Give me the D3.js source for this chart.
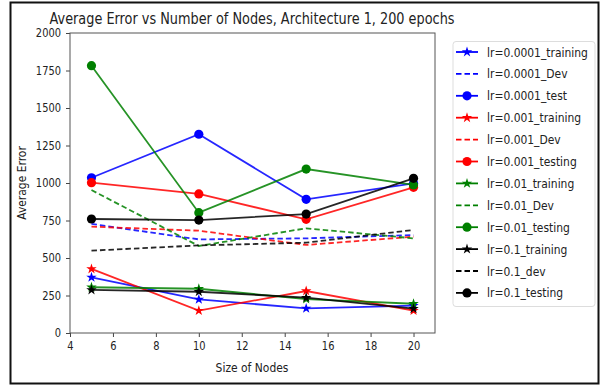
<!DOCTYPE html>
<html>
<head>
<meta charset="utf-8">
<script src="https://cdn.jsdelivr.net/npm/d3@7"></script>
<style>
  html, body { margin: 0; padding: 0; background: #fff; }
  svg { display: block; }
  text { font-family: "DejaVu Sans", sans-serif; fill: #222; }
</style>
</head>
<body>
<svg id="chart" width="603" height="386"></svg>
<script>
// Hidden-layer sizes tested
const nodes = [5, 10, 15, 20];

// Average error per learning rate
const lr0001_training = [371, 224, 164, 182];
const lr0001_dev      = [727, 624, 631, 653];
const lr0001_test     = [1035, 1325, 891, 998];
const lr001_training  = [427, 149, 280, 149];
const lr001_dev       = [709, 682, 587, 642];
const lr001_testing   = [1002, 927, 758, 971];
const lr01_training   = [305, 295, 226, 195];
const lr01_dev        = [953, 580, 698, 631];
const lr01_testing    = [1782, 802, 1093, 987];
const lr1_training    = [287, 275, 236, 162];
const lr1_dev         = [549, 584, 602, 687];
const lr1_testing     = [760, 753, 793, 1031];

const xTicks = [4, 6, 8, 10, 12, 14, 16, 18, 20];
const yTicks = [0, 250, 500, 750, 1000, 1250, 1500, 1750, 2000];

const series = [
  { name: "lr=0.0001_training", values: lr0001_training, color: "#0000ff", kind: "train" },
  { name: "lr=0.0001_Dev",      values: lr0001_dev,      color: "#0000ff", kind: "dev" },
  { name: "lr=0.0001_test",     values: lr0001_test,     color: "#0000ff", kind: "test" },
  { name: "lr=0.001_training",  values: lr001_training,  color: "#ff0000", kind: "train" },
  { name: "lr=0.001_Dev",       values: lr001_dev,       color: "#ff0000", kind: "dev" },
  { name: "lr=0.001_testing",   values: lr001_testing,   color: "#ff0000", kind: "test" },
  { name: "lr=0.01_training",   values: lr01_training,   color: "#008000", kind: "train" },
  { name: "lr=0.01_Dev",        values: lr01_dev,        color: "#008000", kind: "dev" },
  { name: "lr=0.01_testing",    values: lr01_testing,    color: "#008000", kind: "test" },
  { name: "lr=0.1_training",    values: lr1_training,    color: "#000000", kind: "train" },
  { name: "lr=0.1_dev",         values: lr1_dev,         color: "#000000", kind: "dev" },
  { name: "lr=0.1_testing",     values: lr1_testing,     color: "#000000", kind: "test" }
];

const svg = d3.select("#chart");
const plot = { left: 70, right: 435, top: 33, bottom: 333 };
const squeeze = 0.86; // horizontal text compression

const x = d3.scaleLinear().domain([4, 21]).range([plot.left, plot.right]);
const y = d3.scaleLinear().domain([0, 2000]).range([plot.bottom, plot.top]);

function label(g, txt, px, py, opts = {}) {
  const t = g.append("text")
    .attr("transform", `translate(${px},${py}) rotate(${opts.rotate || 0}) scale(${opts.sx || squeeze},1)`)
    .attr("text-anchor", opts.anchor || "start")
    .attr("font-size", opts.size || 12)
    .text(txt);
  return t;
}

// outer frame
svg.append("rect").attr("x", 10.5).attr("y", 2.5).attr("width", 588).attr("height", 381)
  .attr("fill", "none").attr("stroke", "#111").attr("stroke-width", 2);

// title
label(svg, "Average Error vs Number of Nodes, Architecture 1, 200 epochs", 252, 24,
  { anchor: "middle", size: 15.5, sx: 0.83 });

// axes
const xAxis = svg.append("g").attr("transform", `translate(0,${plot.bottom})`)
  .call(d3.axisBottom(x).tickValues(xTicks).tickSize(4).tickFormat(d3.format("d")));
const yAxis = svg.append("g").attr("transform", `translate(${plot.left},0)`)
  .call(d3.axisLeft(y).tickValues(yTicks).tickSize(4).tickFormat(d3.format("d")));
[xAxis, yAxis].forEach(a => {
  a.select(".domain").remove();
  a.selectAll(".tick line").attr("stroke", "#444");
  a.selectAll(".tick text").attr("font-size", 11.5).attr("fill", "#222")
    .attr("font-family", "DejaVu Sans, sans-serif");
});
xAxis.selectAll(".tick text").attr("dy", "0.9em").attr("transform", `scale(${squeeze},1)`);
yAxis.selectAll(".tick text").each(function () {
  const t = d3.select(this);
  const xx = +t.attr("x");
  t.attr("x", null).attr("transform", `translate(${xx - 2},0) scale(${squeeze},1)`);
});

// spines
svg.append("rect").attr("x", plot.left).attr("y", plot.top)
  .attr("width", plot.right - plot.left).attr("height", plot.bottom - plot.top)
  .attr("fill", "none").attr("stroke", "#555").attr("stroke-width", 1);

label(svg, "Size of Nodes", 252, 372, { anchor: "middle", size: 12.5 });
label(svg, "Average Error", 26, 183, { anchor: "middle", size: 12.5, rotate: -90 });

// lines and markers
const line = d3.line().x((d, i) => x(nodes[i])).y(d => y(d));
const star = d3.symbol().type(d3.symbolStar).size(34);

const lines = svg.append("g");
series.forEach(s => {
  const g = lines.append("g");
  g.append("path").datum(s.values).attr("d", line)
    .attr("fill", "none").attr("stroke", s.color).attr("stroke-width", 1.8)
    .attr("stroke-opacity", 0.85)
    .attr("stroke-dasharray", s.kind === "dev" ? "5.5,3" : null);
  if (s.kind === "train") {
    g.selectAll("path.m").data(s.values).join("path").attr("class", "m")
      .attr("d", star)
      .attr("transform", (d, i) => `translate(${x(nodes[i])},${y(d)})`)
      .attr("fill", s.color);
  } else if (s.kind === "test") {
    g.selectAll("circle").data(s.values).join("circle")
      .attr("cx", (d, i) => x(nodes[i])).attr("cy", d => y(d)).attr("r", 4.6)
      .attr("fill", s.color);
  }
});

// legend
const lg = svg.append("g");
lg.append("rect").attr("x", 453).attr("y", 41.5).attr("width", 142).attr("height", 265).attr("rx", 3)
  .attr("fill", "#fff").attr("stroke", "#ddd").attr("stroke-width", 1);
series.forEach((s, i) => {
  const yy = 52 + i * 21.9;
  lg.append("line").attr("x1", 456).attr("x2", 478).attr("y1", yy).attr("y2", yy)
    .attr("stroke", s.color).attr("stroke-width", 1.8)
    .attr("stroke-dasharray", s.kind === "dev" ? "5.5,3" : null);
  if (s.kind === "train") {
    lg.append("path").attr("d", star).attr("transform", `translate(467,${yy})`).attr("fill", s.color);
  } else if (s.kind === "test") {
    lg.append("circle").attr("cx", 467).attr("cy", yy).attr("r", 4.6).attr("fill", s.color);
  }
  label(lg, s.name, 487, yy + 4.5, { size: 12.5 });
});
</script>
</body>
</html>
